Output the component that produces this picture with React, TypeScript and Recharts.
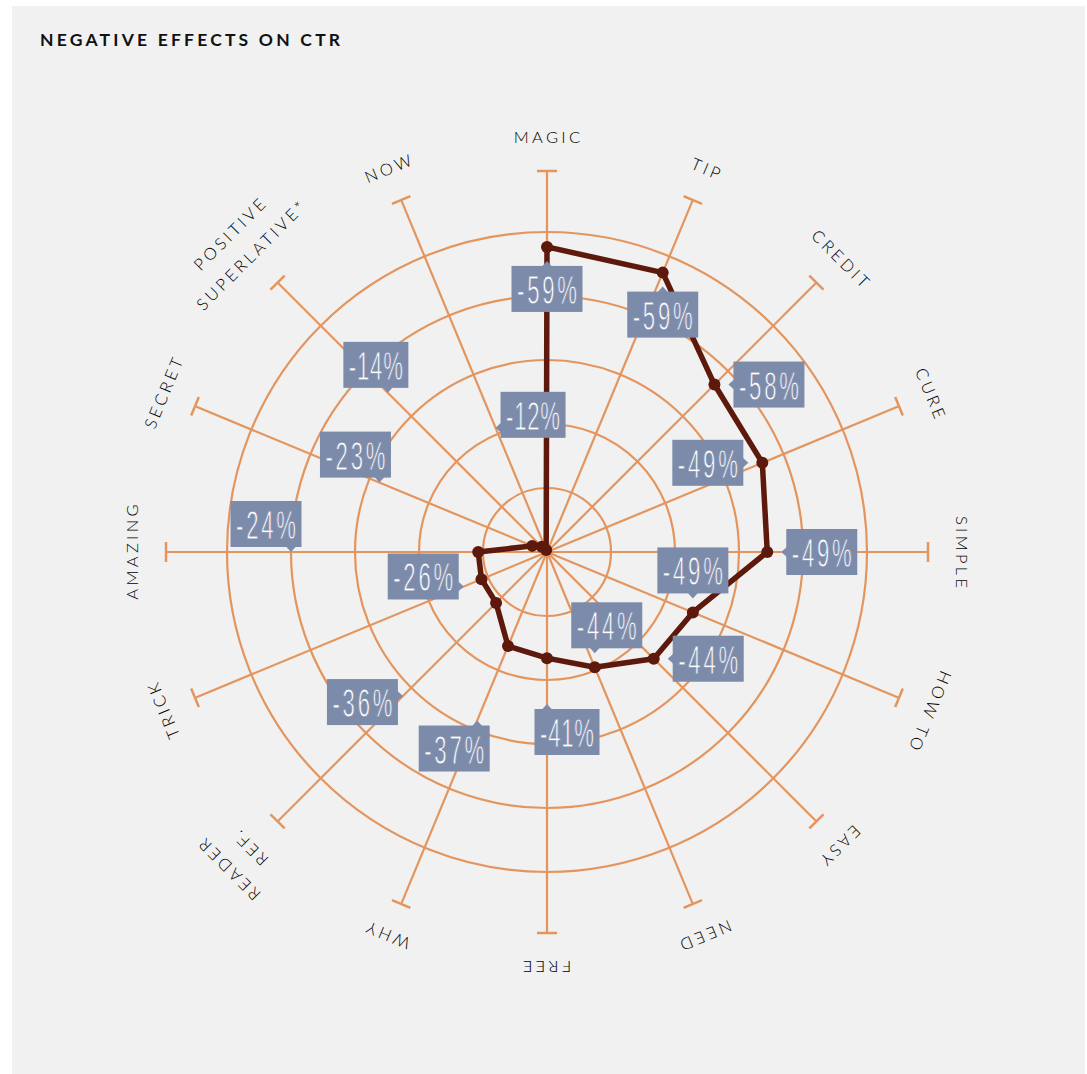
import React from 'react';
import { RadarChart, Radar, PolarGrid, PolarAngleAxis, PolarRadiusAxis } from 'recharts';

// spokes, clockwise from the top ("\n" breaks a label over two lines)
const categories = [
  'MAGIC', 'TIP', 'CREDIT', 'CURE', 'SIMPLE', 'HOW TO', 'EASY', 'NEED',
  'FREE', 'WHY', 'READER\nREF.', 'TRICK', 'AMAZING', 'SECRET', 'POSITIVE\nSUPERLATIVE*', 'NOW',
];

// CTR change printed in the callouts (%)
const ctrChange = [-59, -59, -58, -49, -49, -49, -44, -44, -41, -37, -36, -26, -24, -23, -14, -12];

// radial position of the line, on the ring scale (rings every 12)
const plotted = [57.2, 56.7, 44.4, 43.7, 41.3, 29.6, 28.3, 23.4, 19.9, 19.1, 13.5, 13.3, 12.9, 3.0, 1.4, 0.4];

// callouts that don't sit on their point are pinned to the spoke at this value
const calloutAt: (number | null)[] = [
  null, null, null, null, null, null, null, null, 28.5, 34.2, 38.2, 16.9, 48, 34, 42.2, 25.2,
];

const RINGS = [12, 24, 36, 48, 60];

// layout only: which edge carries the pointer, and how far the box slides along that edge
const calloutLayout = [
  { side: 'top', shift: 0 }, { side: 'top', shift: 0 }, { side: 'left', shift: 0 },
  { side: 'right', shift: 0 }, { side: 'left', shift: 0 }, { side: 'bottom', shift: 0 },
  { side: 'left', shift: 0 }, { side: 'bottom', shift: 12 }, { side: 'top', shift: 20 },
  { side: 'top', shift: -23 }, { side: 'right', shift: 6 }, { side: 'right', shift: -10 },
  { side: 'bottom', shift: -25 }, { side: 'bottom', shift: -24 }, { side: 'bottom', shift: -12 },
  { side: 'left', shift: -13 },
];

const W = 1087;
const H = 1074;
const CX = 547;
const CY = 552;
const OUTER = 380;
const MAX_VALUE = 71.25;

const ORANGE = '#e4955e';
const LINE = '#5d1a0c';
const BOX = '#7d8bab';
const BG = '#f0f1f0';

const rows = categories.map((name, i) => ({
  name,
  plotted: plotted[i],
  callout: calloutAt[i] ?? plotted[i],
}));

function SpokeEnd(props: any) {
  const { payload, index } = props;
  const deg = typeof payload?.coordinate === 'number' ? 90 - payload.coordinate : index * (360 / categories.length);
  const rad = (deg * Math.PI) / 180;
  const ux = Math.sin(rad);
  const uy = -Math.cos(rad);
  const ex = CX + ux * (OUTER + 1);
  const ey = CY + uy * (OUTER + 1);
  const px = Math.cos(rad);
  const py = Math.sin(rad);
  const lines = String(payload.value).split('\n');
  const r = lines.length > 1 ? 419 : 415;
  const lx = CX + ux * r;
  const ly = CY + uy * r;

  return (
    <g>
      <line x1={ex - px * 10} y1={ey - py * 10} x2={ex + px * 10} y2={ey + py * 10} stroke={ORANGE} strokeWidth={2.5} />
      <text
        transform={`translate(${lx},${ly}) rotate(${deg})`}
        textAnchor="middle"
        fill="#000"
        fontFamily="Lato, 'Open Sans', sans-serif"
        fontWeight={300}
        fontSize={16.5}
        letterSpacing={3.3}
      >
        {lines.map((line, i) => (
          <tspan key={line} x={1.6} y={-(lines.length - 1 - i) * 30} dy="0.36em">
            {line}
          </tspan>
        ))}
      </text>
    </g>
  );
}

function Callout(props: any) {
  const { cx, cy, index } = props;
  if (cx == null || Number.isNaN(cx)) return <g key={`c-${index}`} />;
  const { side, shift } = calloutLayout[index];
  const text = `${ctrChange[index]}%`;
  const w = text.includes('1') ? 65 : 71;
  const h = 46;
  const gap = calloutAt[index] == null ? 14 : 0;
  const squeeze = 0.54;

  let tx = cx;
  let ty = cy;
  let bx = 0;
  let by = 0;
  let tri = '';
  if (side === 'top') {
    ty = cy + gap;
    bx = tx + shift - w / 2;
    by = ty + 5;
    tri = `M${tx},${ty} L${tx + 5},${ty + 5.5} L${tx - 5},${ty + 5.5} Z`;
  } else if (side === 'bottom') {
    ty = cy - gap;
    bx = tx + shift - w / 2;
    by = ty - 5 - h;
    tri = `M${tx},${ty} L${tx + 5},${ty - 5.5} L${tx - 5},${ty - 5.5} Z`;
  } else if (side === 'left') {
    tx = cx + gap;
    bx = tx + 5;
    by = ty + shift - h / 2;
    tri = `M${tx},${ty} L${tx + 5.5},${ty - 5} L${tx + 5.5},${ty + 5} Z`;
  } else {
    tx = cx - gap;
    bx = tx - 5 - w;
    by = ty + shift - h / 2;
    tri = `M${tx},${ty} L${tx - 5.5},${ty - 5} L${tx - 5.5},${ty + 5} Z`;
  }

  return (
    <g key={`c-${index}`}>
      <path d={tri} fill={BOX} />
      <rect x={bx} y={by} width={w} height={h} fill={BOX} />
      <text
        transform={`translate(${bx + w / 2},${by + 38}) scale(${squeeze},1)`}
        x={0}
        y={0}
        textAnchor="middle"
        fill="#ffffff"
        stroke={BOX}
        strokeWidth={1}
        fontFamily="'Liberation Sans Narrow', 'Liberation Sans', sans-serif"
        fontSize={41}
        textLength={(w - 11) / squeeze}
        lengthAdjust="spacing"
      >
        {text}
      </text>
    </g>
  );
}

export default function App() {
  return (
    <div style={{ position: 'absolute', left: 0, top: 0, width: W, height: H }}>
      <div style={{ position: 'absolute', left: 12, top: 6, width: 1073, height: 1068, background: BG }} />
      <svg width={W} height={80} style={{ position: 'absolute', left: 0, top: 0 }}>
        <text
          x={40}
          y={46}
          fill="#111"
          fontFamily="Lato, 'Open Sans', sans-serif"
          fontWeight={700}
          fontSize={17.5}
          letterSpacing={3.2}
        >
          NEGATIVE EFFECTS ON CTR
        </text>
      </svg>
      <div style={{ position: 'absolute', left: 0, top: 0 }}>
        <RadarChart
          width={W}
          height={H}
          cx={CX}
          cy={CY}
          outerRadius={OUTER}
          data={rows}
          margin={{ top: 0, right: 0, bottom: 0, left: 0 }}
        >
          <PolarGrid gridType="circle" stroke={ORANGE} strokeWidth={2.2} strokeOpacity={1} />
          <PolarRadiusAxis domain={[0, MAX_VALUE]} ticks={RINGS} tick={false} axisLine={false} angle={90} />
          <PolarAngleAxis dataKey="name" tick={SpokeEnd} tickLine={false} axisLine={false} />
          <Radar
            dataKey="plotted"
            stroke={LINE}
            strokeWidth={5.5}
            strokeLinejoin="round"
            fill="none"
            dot={{ r: 6, fill: LINE, stroke: 'none', fillOpacity: 1 }}
            isAnimationActive={false}
          />
          <Radar dataKey="callout" stroke="none" fill="none" dot={Callout} isAnimationActive={false} />
        </RadarChart>
      </div>
    </div>
  );
}
